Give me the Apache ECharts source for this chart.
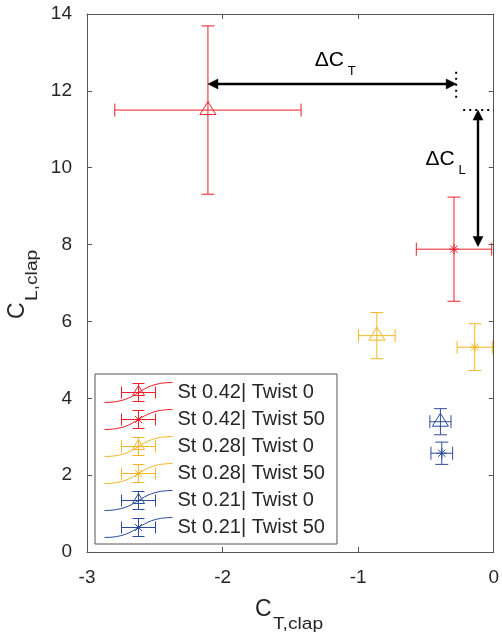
<!DOCTYPE html>
<html>
<head>
<meta charset="utf-8">
<script src="https://cdn.jsdelivr.net/npm/echarts@6/dist/echarts.min.js"></script>
<style>
html,body{margin:0;padding:0;background:#fff;}
#chart{width:502px;height:635px;}
</style>
</head>
<body>
<div id="chart"></div>
<script>
// ---- data ----
const seriesNames = ['St 0.42| Twist 0', 'St 0.42| Twist 50', 'St 0.28| Twist 0', 'St 0.28| Twist 50', 'St 0.21| Twist 0', 'St 0.21| Twist 50'];
const markerTypes = ['triangle', 'asterisk', 'triangle', 'asterisk', 'triangle', 'asterisk'];
const ctMean = [-2.108, -0.293, -0.862, -0.140, -0.393, -0.383];
const clMean = [11.50, 7.88, 5.63, 5.33, 3.39, 2.57];
const ctErr = [0.687, 0.278, 0.135, 0.130, 0.078, 0.080];
const clErr = [2.19, 1.355, 0.60, 0.61, 0.34, 0.29];
const xTicks = [-3, -2, -1, 0];
const yTicks = [0, 2, 4, 6, 8, 10, 12, 14];
// annotation arrows: [x1, y1, x2, y2] (double headed)
const arrowStart = [[-2.108, 12.18], [-0.116, 11.50]];
const arrowEnd = [[-0.277, 12.18], [-0.116, 7.95]];
// dotted guide lines
const guideStart = [[-0.277, 12.50], [-0.225, 11.50]];
const guideEnd = [[-0.277, 11.72], [0.0, 11.50]];
// annotation labels
const labelMain = ['\u0394C', '\u0394C'];
const labelSub = ['T', 'L'];
const labelAnchor = [[-1.320, 12.80], [-0.503, 10.22]];

const colors = ['#ED1F2A', '#ED1F2A', '#F5B626', '#F5B626', '#2D4C9E', '#2D4C9E'];
const FONT = '"Liberation Sans", Arial, Helvetica, sans-serif';

const iconBase = 'M0,21 C36,21 32,1 68,1 M17,11 L51,11 M17,5 L17,17 M51,5 L51,17 M34,2 L34,20 M28,2 L40,2 M28,20 L40,20';
const iconTri = ' M34,4 L40,14 L28,14 Z';
const iconAst = ' M34,6 L34,16 M29,11 L39,11 M30.5,7.5 L37.5,14.5 M30.5,14.5 L37.5,7.5';

function errRender(marker) {
  return function (params, api) {
    const x = api.value(0), y = api.value(1), ex = api.value(2), ey = api.value(3);
    const c = api.coord([x, y]);
    const l = api.coord([x - ex, y]);
    const r = api.coord([x + ex, y]);
    const t = api.coord([x, y + ey]);
    const b = api.coord([x, y - ey]);
    const color = api.visual('color');
    const st = { stroke: color, lineWidth: 1, fill: 'none' };
    const cap = 6.5;
    const line = (x1, y1, x2, y2) => ({ type: 'line', shape: { x1, y1, x2, y2 }, style: st });
    const ch = [
      line(l[0], l[1], r[0], r[1]),
      line(l[0], l[1] - cap, l[0], l[1] + cap),
      line(r[0], r[1] - cap, r[0], r[1] + cap),
      line(t[0], t[1], b[0], b[1]),
      line(t[0] - cap, t[1], t[0] + cap, t[1]),
      line(b[0] - cap, b[1], b[0] + cap, b[1])
    ];
    if (marker === 'triangle') {
      ch.push({ type: 'polygon', shape: { points: [[c[0], c[1] - 8.5], [c[0] + 8, c[1] + 4.5], [c[0] - 8, c[1] + 4.5]] }, style: st });
    } else {
      const R = 5, d = 3.6;
      ch.push(line(c[0], c[1] - R, c[0], c[1] + R));
      ch.push(line(c[0] - R, c[1], c[0] + R, c[1]));
      ch.push(line(c[0] - d, c[1] - d, c[0] + d, c[1] + d));
      ch.push(line(c[0] - d, c[1] + d, c[0] + d, c[1] - d));
    }
    return { type: 'group', children: ch };
  };
}

const series = seriesNames.map((name, i) => ({
  name: name,
  type: 'custom',
  xAxisIndex: 0, yAxisIndex: 0,
  itemStyle: { color: colors[i] },
  encode: { x: 0, y: 1 },
  renderItem: errRender(markerTypes[i]),
  data: [[ctMean[i], clMean[i], ctErr[i], clErr[i]]],
  z: 3
}));

// arrows
series.push({
  type: 'custom', name: 'arrows', xAxisIndex: 0, yAxisIndex: 0, z: 4, silent: true,
  encode: { x: [0, 2], y: [1, 3] },
  data: arrowStart.map((s, i) => [s[0], s[1], arrowEnd[i][0], arrowEnd[i][1]]),
  renderItem: function (params, api) {
    const p1 = api.coord([api.value(0), api.value(1)]);
    const p2 = api.coord([api.value(2), api.value(3)]);
    const dx = p2[0] - p1[0], dy = p2[1] - p1[1];
    const L = Math.sqrt(dx * dx + dy * dy);
    const ux = dx / L, uy = dy / L, px = -uy, py = ux;
    const hl = 10, hw = 5;
    const head = (tip, sgn) => ({
      type: 'polygon',
      shape: { points: [tip, [tip[0] - sgn * ux * hl + px * hw, tip[1] - sgn * uy * hl + py * hw], [tip[0] - sgn * ux * hl - px * hw, tip[1] - sgn * uy * hl - py * hw]] },
      style: { fill: '#000', stroke: '#000', lineWidth: 0.5 }
    });
    return {
      type: 'group', children: [
        { type: 'line', shape: { x1: p1[0] + ux * (hl - 1), y1: p1[1] + uy * (hl - 1), x2: p2[0] - ux * (hl - 1), y2: p2[1] - uy * (hl - 1) }, style: { stroke: '#000', lineWidth: 2.4 } },
        head(p1, -1), head(p2, 1)
      ]
    };
  }
});
// dotted guides
series.push({
  type: 'custom', name: 'guides', xAxisIndex: 0, yAxisIndex: 0, z: 4, silent: true,
  encode: { x: [0, 2], y: [1, 3] },
  data: guideStart.map((s, i) => [s[0], s[1], guideEnd[i][0], guideEnd[i][1]]),
  renderItem: function (params, api) {
    const p1 = api.coord([api.value(0), api.value(1)]);
    const p2 = api.coord([api.value(2), api.value(3)]);
    return { type: 'line', shape: { x1: p1[0], y1: p1[1], x2: p2[0], y2: p2[1] }, style: { stroke: '#000', lineWidth: 2, lineDash: [2, 4] } };
  }
});
// labels
series.push({
  type: 'custom', name: 'labels', xAxisIndex: 0, yAxisIndex: 0, z: 4, silent: true,
  encode: { x: 0, y: 1 },
  data: labelAnchor.map((a, i) => [a[0], a[1], i]),
  renderItem: function (params, api) {
    const i = api.value(2);
    const p = api.coord([api.value(0), api.value(1)]);
    return {
      type: 'group', children: [
        { type: 'text', x: p[0], y: p[1], style: { text: labelMain[i], font: '21px ' + FONT, fill: '#000', align: 'left', verticalAlign: 'middle' } },
        { type: 'text', x: p[0] + 33, y: p[1] + 11.5, style: { text: labelSub[i], font: '13px ' + FONT, fill: '#000', align: 'left', verticalAlign: 'middle' } }
      ]
    };
  }
});

const axisColor = '#555';
const baseX = {
  type: 'value', min: xTicks[0], max: xTicks[xTicks.length - 1], interval: 1,
  axisLine: { show: true, onZero: false, lineStyle: { color: axisColor, width: 1 } },
  axisTick: { show: true, inside: true, length: 5, lineStyle: { color: axisColor } },
  splitLine: { show: false }
};
const baseY = {
  type: 'value', min: yTicks[0], max: yTicks[yTicks.length - 1], interval: 2,
  axisLine: { show: true, onZero: false, lineStyle: { color: axisColor, width: 1 } },
  axisTick: { show: true, inside: true, length: 5, lineStyle: { color: axisColor } },
  splitLine: { show: false }
};

const option = {
  animation: false,
  backgroundColor: '#fff',
  grid: { left: 87, right: 5, top: 14, bottom: 83, containLabel: false },
  xAxis: [
    Object.assign({}, baseX, { position: 'bottom', axisLabel: { show: true, margin: 16, color: '#262626', fontSize: 19, fontFamily: FONT } }),
    Object.assign({}, baseX, { position: 'top', axisLabel: { show: false } })
  ],
  yAxis: [
    Object.assign({}, baseY, { position: 'left', axisLabel: { show: true, margin: 15, color: '#262626', fontSize: 19, fontFamily: FONT } }),
    Object.assign({}, baseY, { position: 'right', axisLabel: { show: false } })
  ],
  legend: {
    orient: 'vertical', left: 95, top: 374,
    padding: [6, 12, 4, 7],
    itemGap: 2, itemWidth: 68, itemHeight: 20,
    backgroundColor: '#fff', borderColor: '#555', borderWidth: 1, borderRadius: 0,
    textStyle: { color: '#262626', fontSize: 20, fontFamily: FONT, lineHeight: 25 },
    selectedMode: false,
    data: seriesNames.map((n, i) => ({
      name: n,
      icon: 'path://' + iconBase + (markerTypes[i] === 'triangle' ? iconTri : iconAst),
      itemStyle: { color: 'none', borderColor: colors[i], borderWidth: 1 }
    }))
  },
  graphic: [
    { type: 'text', x: 255, y: 610, style: { text: 'C', font: '23px ' + FONT, fill: '#262626', verticalAlign: 'middle' } },
    { type: 'text', x: 273, y: 624.5, scaleX: 1.2, style: { text: 'T,clap', font: '16px ' + FONT, fill: '#262626', verticalAlign: 'middle' } },
    {
      type: 'group', x: 18, y: 283, rotation: Math.PI / 2,
      children: [
        { type: 'text', x: -36, y: 0, style: { text: 'C', font: '23px ' + FONT, fill: '#262626', verticalAlign: 'middle' } },
        { type: 'text', x: -18, y: 14.5, scaleX: 1.2, style: { text: 'L,clap', font: '16px ' + FONT, fill: '#262626', verticalAlign: 'middle' } }
      ]
    }
  ],
  series: series
};

const chart = echarts.init(document.getElementById('chart'), null, { renderer: 'canvas' });
chart.setOption(option);
</script>
</body>
</html>
